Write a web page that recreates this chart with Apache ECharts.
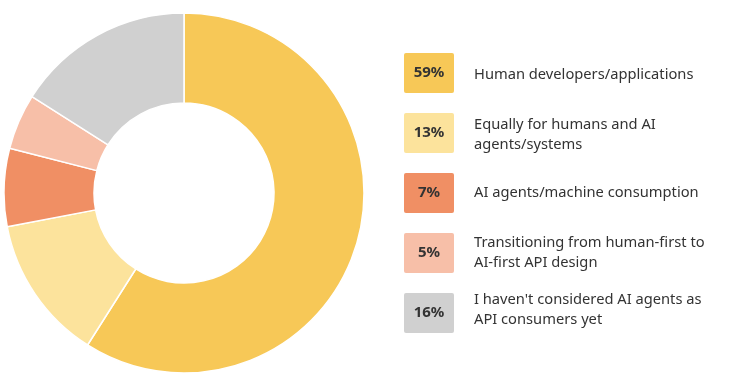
<!DOCTYPE html>
<html><head><meta charset="utf-8">
<script src="https://cdn.jsdelivr.net/npm/echarts@6/dist/echarts.min.js"></script>
<style>html,body{margin:0;padding:0;background:#fff}#c{width:732px;height:384px}</style>
</head><body><div id="c"></div>
<script>
const categories = [
  "Human developers/applications",
  "Equally for humans and AI\nagents/systems",
  "AI agents/machine consumption",
  "Transitioning from human-first to\nAI-first API design",
  "I haven't considered AI agents as\nAPI consumers yet"
];
const values = [59, 13, 7, 5, 16];
const colors = ["#F7C857", "#FCE39C", "#F08F64", "#F7BFA8", "#D0D0D0"];

const chart = echarts.init(document.getElementById('c'));
const boxRich = {};
colors.forEach((c, i) => {
  boxRich['b' + i] = {
    backgroundColor: c, width: 50, height: 40, borderRadius: 2,
    align: 'center', fontWeight: 'bold', fontSize: 15, color: '#333',
    fontFamily: 'Noto Sans'
  };
});
const legendBase = {
  orient: 'vertical', icon: 'none', itemWidth: 0, itemHeight: 40, itemGap: 20,
  selectedMode: false, data: categories
};
chart.setOption({
  animation: false,
  color: colors,
  legend: [
    Object.assign({}, legendBase, {
      left: 394, top: 48,
      formatter: name => {
        const i = categories.indexOf(name);
        return '{b' + i + '|' + values[i] + '%}';
      },
      textStyle: { rich: boxRich, fontSize: 15, fontWeight: 'bold' }
    }),
    Object.assign({}, legendBase, {
      left: 464, top: 50,
      formatter: name => {
        const lines = name.split('\n');
        if (lines.length === 1) return '{one|' + name + '}';
        return lines.map(l => '{two|' + l + '}').join('\n');
      },
      textStyle: {
        rich: {
          one: { fontSize: 14.7, lineHeight: 40, height: 40, color: '#333', fontFamily: 'Noto Sans' },
          two: { fontSize: 14.7, lineHeight: 20, color: '#333', fontFamily: 'Noto Sans' }
        }
      }
    })
  ],
  series: [{
    type: 'pie',
    center: [184, 193],
    radius: [90, 180],
    startAngle: 90,
    clockwise: true,
    label: { show: false },
    labelLine: { show: false },
    itemStyle: { borderColor: '#fff', borderWidth: 1.5 },
    emphasis: { disabled: true },
    data: categories.map((n, i) => ({ name: n, value: values[i] }))
  }]
});
</script></body></html>
